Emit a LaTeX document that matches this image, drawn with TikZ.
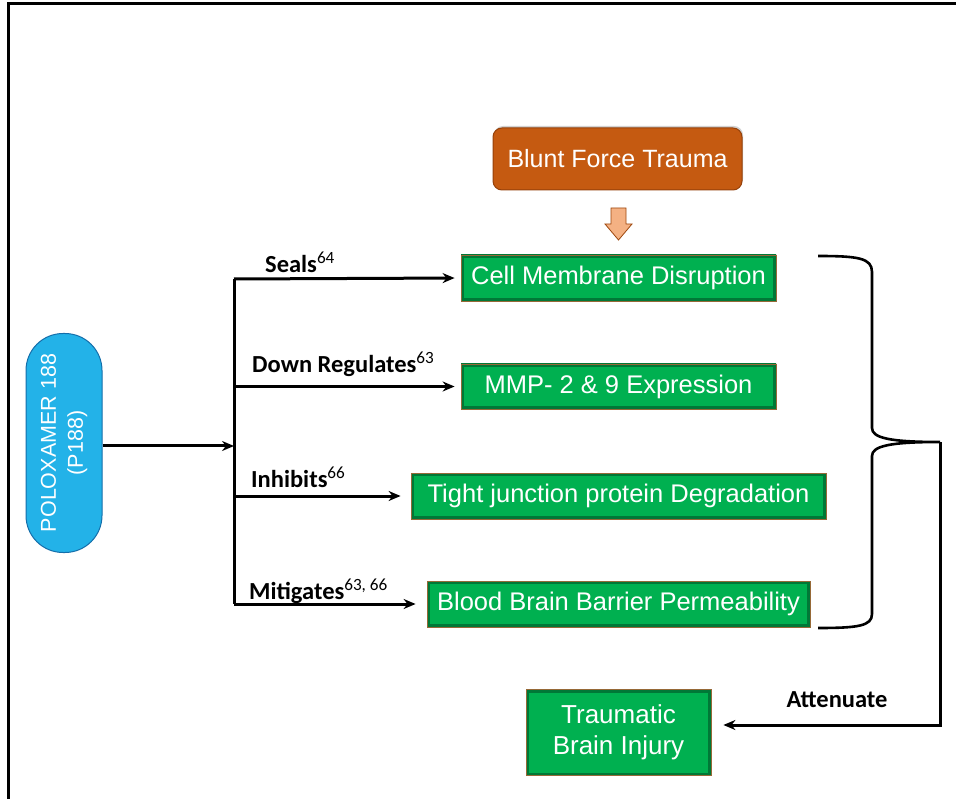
\documentclass[tikz,border=0pt]{standalone}
\usepackage{fontspec}
\setmainfont{Liberation Sans}
\newfontfamily\lblfont{Carlito}
\usetikzlibrary{arrows.meta,shadows}
\definecolor{gfill}{RGB}{0,176,80}
\definecolor{gdark}{RGB}{0,120,55}
\definecolor{gborder}{RGB}{150,105,55}
\definecolor{ofill}{RGB}{197,90,17}
\definecolor{oborder}{RGB}{150,65,10}
\definecolor{olight}{RGB}{244,177,131}
\definecolor{bfill}{RGB}{35,178,232}
\definecolor{bborder}{RGB}{20,110,170}
\newcommand{\refsup}[1]{\textsuperscript{\mdseries #1}}
\tikzset{
  gbox/.style={draw=gborder, line width=0.8pt, fill=gfill, text=white, inner sep=0pt,
    font=\fontsize{25.5}{28}\selectfont, align=center,
    path picture={\draw[gdark, line width=6pt] (path picture bounding box.south west) rectangle (path picture bounding box.north east);}},
  obox/.style={draw=oborder, line width=1pt, fill=ofill, text=white, rounded corners=9pt,
    minimum width=249pt, minimum height=62pt, font=\fontsize{25}{28}\selectfont,
    drop shadow={shadow xshift=1pt, shadow yshift=2pt, opacity=0.35}},
  pill/.style={draw=bborder, line width=1pt, fill=bfill, text=white, rounded corners=37pt,
    minimum width=219pt, minimum height=76pt, rotate=90, align=center, inner sep=0pt,
    font=\fontsize{21.5}{27}\selectfont},
  lbl/.style={anchor=west, inner sep=0pt, font=\lblfont\bfseries\fontsize{24.5}{26}\selectfont},
  conn/.style={line width=3pt, black},
  arr/.style={conn, -{Stealth[length=12pt,width=10pt]}}
}
\begin{document}
\begin{tikzpicture}[x=1pt,y=-1pt]
\useasboundingbox (0,0) rectangle (956,799);
\fill[white] (0,0) rectangle (956,799);
% frame
\draw[line width=3pt] (8,799) -- (8,4) -- (956,4);

% nodes
\node[obox] (bft) at (617.5,159) {Blunt Force Trauma};
\node[gbox, minimum width=315pt, minimum height=46pt] (cmd) at (618.5,278) {Cell Membrane Disruption};
\node[gbox, minimum width=315pt, minimum height=45pt] (mmp) at (618.5,386.5) {MMP- 2 \& 9 Expression};
\node[gbox, minimum width=415pt, minimum height=46pt] (tjp) at (618.5,496) {Tight junction protein Degradation};
\node[gbox, minimum width=383pt, minimum height=46pt] (bbb) at (618.5,604) {Blood Brain Barrier Permeability};
\node[gbox, minimum width=185pt, minimum height=86pt, font=\fontsize{26}{31}\selectfont] (tbi) at (618.5,732.5) {Traumatic\\Brain Injury};
\node[pill] (p188) at (64,443) {POLOXAMER 188\\(P188)};

% block arrow from trauma
\draw[draw=ofill!80!black, fill=olight, line width=0.8pt]
  (611,208) -- (626,208) -- (626,224) -- (632,224) -- (618.5,240) -- (605,224) -- (611,224) -- cycle;

% trunk
\coordinate (trunk) at (234,446);
\coordinate (ttop) at (234,279);
\coordinate (tbot) at (234,604);
\draw[conn] (ttop) -- (tbot);
\draw[arr] (p188.south |- trunk) -- (trunk);
\draw[arr, shorten >=6pt] (ttop) -- (cmd.west);
\draw[arr, shorten >=6pt] (234,386.5) -- (mmp.west);
\draw[arr, shorten >=10pt] (234,496) -- (tjp.west);
\draw[arr, shorten >=11pt] (tbot) -- (bbb.west);

% labels
\node[lbl] (l1) at (265,262) {Seals\refsup{64}};
\node[lbl] (l2) at (252,364) {Down Regulates\refsup{63}};
\node[lbl] (l3) at (251,477) {Inhibits\refsup{66}};
\node[lbl] (l4) at (249,591) {Mitigates\refsup{63, 66}};
\node[lbl, anchor=center] (l5) at (837,700) {Attenuate};

% brace
\coordinate (tip) at (940,442);
\coordinate (bend) at (940,725);
\draw[conn, line width=2.6pt] (818,256) .. controls (858,256) and (872,258) .. (872,272) -- (872,428)
  .. controls (872,438) and (890,442) .. (tip)
  .. controls (890,442) and (872,446) .. (872,456) -- (872,614)
  .. controls (872,626) and (858,628) .. (818,628);
\draw[arr, shorten >=12pt] (tip) -- (bend) -- (tbi.east |- bend);
\end{tikzpicture}
\end{document}
